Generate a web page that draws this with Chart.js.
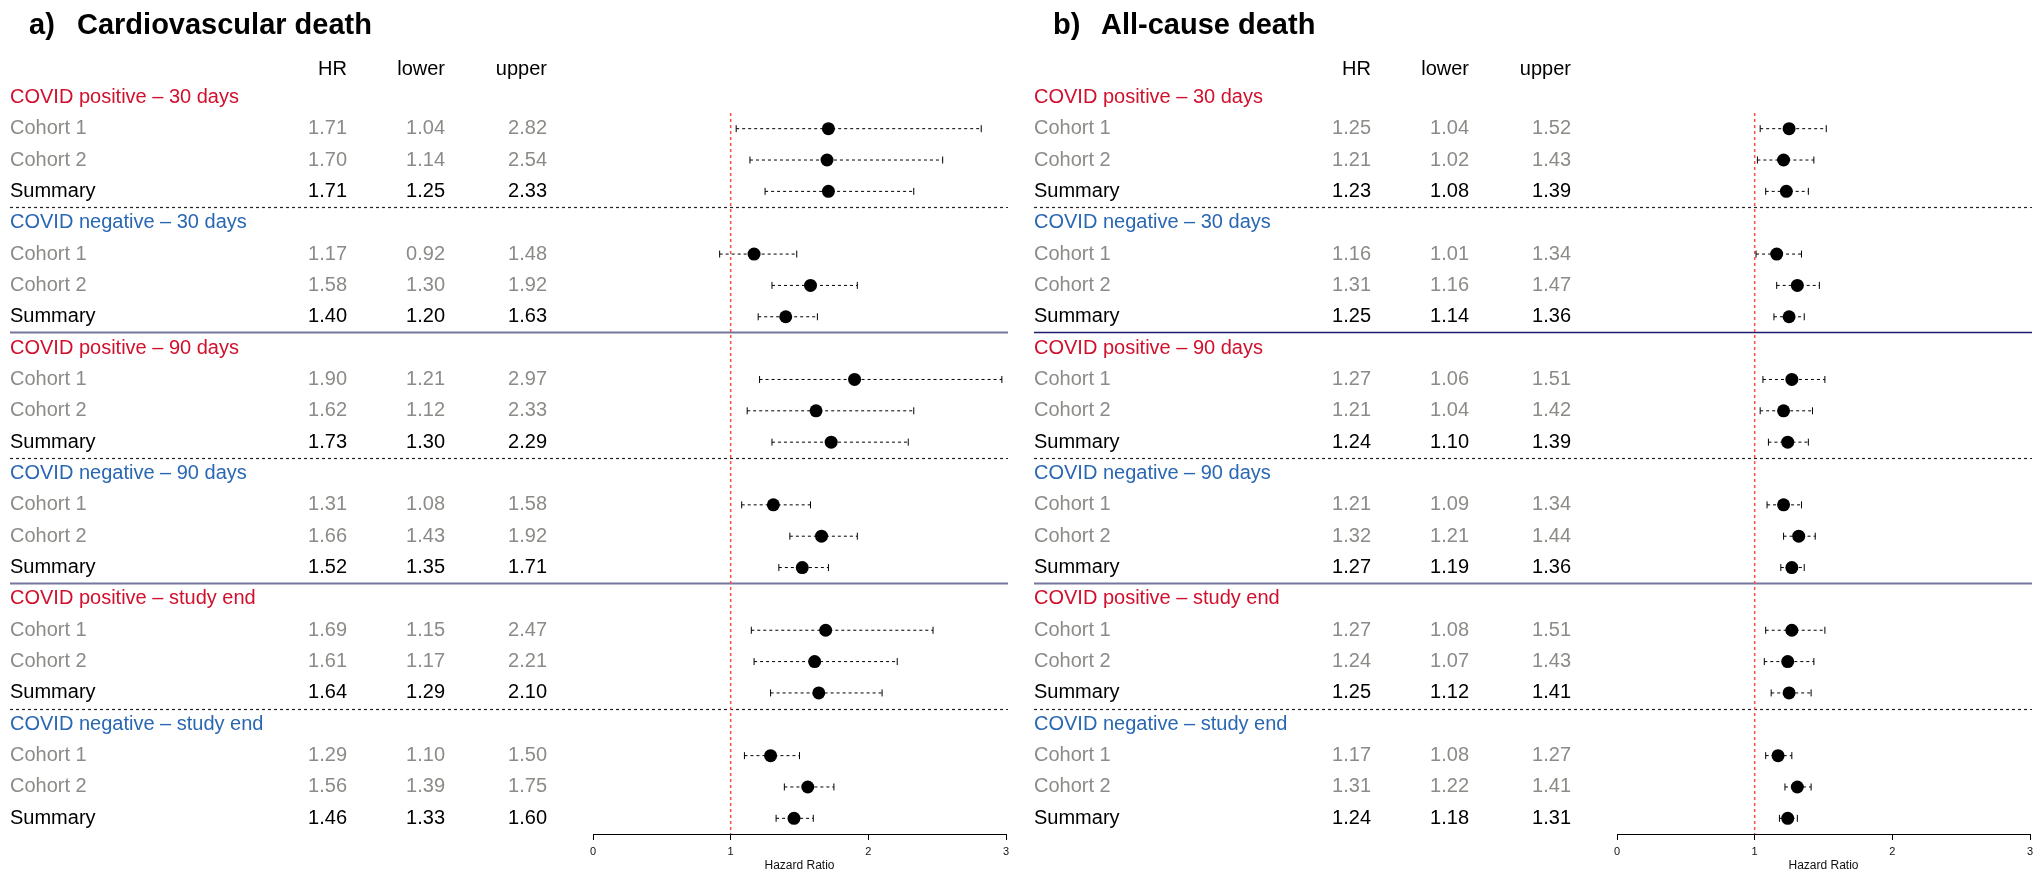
<!DOCTYPE html>
<html>
<head>
<meta charset="utf-8">
<script src="https://cdn.jsdelivr.net/npm/chart.js@4.4.1/dist/chart.umd.min.js"></script>
<style>
html,body{margin:0;padding:0;background:#ffffff;}
#wrap{position:relative;width:2040px;height:872px;overflow:hidden;background:#ffffff;}
.panel{position:absolute;top:0;height:872px;}
canvas{display:block;}
</style>
</head>
<body>
<div id="wrap">
  <div class="panel" style="left:0px;width:1020px"><canvas id="cA" width="1020" height="872" style="width:1020px;height:872px"></canvas></div>
  <div class="panel" style="left:1024px;width:1016px"><canvas id="cB" width="1016" height="872" style="width:1016px;height:872px"></canvas></div>
</div>
<script>
// ---------------- DATA ----------------
const panelLetters = ['a)', 'b)'];
const panelTitles = ['Cardiovascular death', 'All-cause death'];
const columnHeaders = ['HR', 'lower', 'upper'];
const groupLabels = [
  'COVID positive \u2013 30 days',
  'COVID negative \u2013 30 days',
  'COVID positive \u2013 90 days',
  'COVID negative \u2013 90 days',
  'COVID positive \u2013 study end',
  'COVID negative \u2013 study end'
];
const groupIsPositive = [true, false, true, false, true, false];
const rowLabels = ['Cohort 1', 'Cohort 2', 'Summary'];
const xTicks = [0, 1, 2, 3];
const axisTitle = 'Hazard Ratio';
const referenceHR = 1;

// Panel a: Cardiovascular death (Cohort 1, Cohort 2, Summary for each group)
const cvHR    = [1.71, 1.70, 1.71,  1.17, 1.58, 1.40,  1.90, 1.62, 1.73,  1.31, 1.66, 1.52,  1.69, 1.61, 1.64,  1.29, 1.56, 1.46];
const cvLower = [1.04, 1.14, 1.25,  0.92, 1.30, 1.20,  1.21, 1.12, 1.30,  1.08, 1.43, 1.35,  1.15, 1.17, 1.29,  1.10, 1.39, 1.33];
const cvUpper = [2.82, 2.54, 2.33,  1.48, 1.92, 1.63,  2.97, 2.33, 2.29,  1.58, 1.92, 1.71,  2.47, 2.21, 2.10,  1.50, 1.75, 1.60];

// Panel b: All-cause death
const acHR    = [1.25, 1.21, 1.23,  1.16, 1.31, 1.25,  1.27, 1.21, 1.24,  1.21, 1.32, 1.27,  1.27, 1.24, 1.25,  1.17, 1.31, 1.24];
const acLower = [1.04, 1.02, 1.08,  1.01, 1.16, 1.14,  1.06, 1.04, 1.10,  1.09, 1.21, 1.19,  1.08, 1.07, 1.12,  1.08, 1.22, 1.18];
const acUpper = [1.52, 1.43, 1.39,  1.34, 1.47, 1.36,  1.51, 1.42, 1.39,  1.34, 1.44, 1.36,  1.51, 1.43, 1.41,  1.27, 1.41, 1.31];

// ---------------- STYLE ----------------
const FONT = '"Liberation Sans", Arial, Helvetica, sans-serif';
const COL_POS = '#d0102c';
const COL_NEG = '#2a67b3';
const COL_GRAY = '#8b8b87';
const COL_BLACK = '#000000';
Chart.defaults.font.family = FONT;

function rowIndex(g, k) { return g * 4 + 1 + k; }   // group header at g*4

function buildChart(canvasId, panel, hr, lo, hi, sepStyles) {
  const n = hr.length;
  const pointData = [];
  const whiskers = [];
  for (let i = 0; i < n; i++) {
    const g = Math.floor(i / 3), k = i % 3;
    const r = rowIndex(g, k);
    pointData.push({ x: hr[i], y: r });
    whiskers.push({
      type: 'scatter',
      data: [{ x: lo[i], y: r }, { x: hi[i], y: r }],
      showLine: true,
      borderColor: '#000000',
      borderWidth: 1,
      borderDash: [3, 3],
      pointStyle: 'line',
      rotation: 90,
      pointRotation: 90,
      pointRadius: 3.5,
      pointHoverRadius: 3.5,
      pointBorderWidth: 1,
      pointBorderColor: '#000000',
      pointBackgroundColor: '#000000',
      order: 2
    });
  }
  const datasets = [
    {
      type: 'scatter',
      data: pointData,
      pointStyle: 'circle',
      pointRadius: 6.5,
      pointHoverRadius: 6.5,
      pointBackgroundColor: '#000000',
      pointBorderColor: '#000000',
      pointBorderWidth: 0,
      showLine: false,
      order: 0
    },
    ...whiskers,
    {
      type: 'scatter',
      data: [{ x: referenceHR, y: 0.5 }, { x: referenceHR, y: 23.5 }],
      showLine: true,
      borderColor: '#ff4a4a',
      borderWidth: 1.5,
      borderDash: [3, 3],
      pointRadius: 0,
      pointHoverRadius: 0,
      order: 3
    }
  ];

  const sepPlugin = {
    id: 'separators',
    beforeDatasetsDraw(chart) {
      const ctx = chart.ctx, ys = chart.scales.y;
      ctx.save();
      for (let s = 0; s < sepStyles.length; s++) {
        const yy = Math.round(ys.getPixelForValue(s * 4 + 3.5)) + 0.5;
        const st = sepStyles[s];
        ctx.beginPath();
        if (st === 'dash') {
          ctx.setLineDash([3, 3]);
          ctx.strokeStyle = '#222222';
          ctx.lineWidth = 1.2;
        } else if (st === 'navy') {
          ctx.setLineDash([]);
          ctx.strokeStyle = '#1e1e6e';
          ctx.lineWidth = 1.3;
        } else {
          ctx.setLineDash([]);
          ctx.strokeStyle = '#77779e';
          ctx.lineWidth = 2;
        }
        ctx.moveTo(10, yy);
        ctx.lineTo(1008, yy);
        ctx.stroke();
      }
      ctx.restore();
    }
  };

  const tablePlugin = {
    id: 'table',
    afterDraw(chart) {
      const ctx = chart.ctx, ys = chart.scales.y;
      ctx.save();
      // Title
      ctx.fillStyle = '#000000';
      ctx.textBaseline = 'alphabetic';
      ctx.textAlign = 'left';
      ctx.font = 'bold 29px ' + FONT;
      ctx.fillText(panelLetters[panel], 29, 34);
      ctx.fillText(panelTitles[panel], 77, 34);
      // Column headers
      const colX = [347, 445, 547];
      ctx.font = '20px ' + FONT;
      ctx.textBaseline = 'middle';
      ctx.textAlign = 'right';
      const yh = ys.getPixelForValue(-0.9);
      for (let c = 0; c < 3; c++) ctx.fillText(columnHeaders[c], colX[c], yh);
      // Rows
      for (let g = 0; g < groupLabels.length; g++) {
        ctx.textAlign = 'left';
        ctx.fillStyle = groupIsPositive[g] ? COL_POS : COL_NEG;
        ctx.fillText(groupLabels[g], 10, ys.getPixelForValue(g * 4));
        for (let k = 0; k < 3; k++) {
          const i = g * 3 + k;
          const y = ys.getPixelForValue(rowIndex(g, k));
          ctx.fillStyle = k === 2 ? COL_BLACK : COL_GRAY;
          ctx.textAlign = 'left';
          ctx.fillText(rowLabels[k], 10, y);
          ctx.textAlign = 'right';
          ctx.fillText(hr[i].toFixed(2), colX[0], y);
          ctx.fillText(lo[i].toFixed(2), colX[1], y);
          ctx.fillText(hi[i].toFixed(2), colX[2], y);
        }
      }
      ctx.restore();
    }
  };

  const canvas = document.getElementById(canvasId);
  return new Chart(canvas, {
    type: 'scatter',
    data: { datasets },
    options: {
      responsive: false,
      animation: false,
      devicePixelRatio: 1,
      layout: { padding: { left: 593, right: canvas.width - 1006, top: 113, bottom: 0 } },
      plugins: { legend: { display: false }, tooltip: { enabled: false }, title: { display: false } },
      events: [],
      scales: {
        x: {
          type: 'linear',
          min: xTicks[0],
          max: xTicks[xTicks.length - 1],
          afterFit(scale) { scale.height = 38; },
          afterBuildTicks(scale) { scale.ticks = xTicks.map(v => ({ value: v })); },
          border: { display: true, color: '#000000', width: 1 },
          grid: { drawOnChartArea: false, drawTicks: true, tickLength: 6, color: '#000000', lineWidth: 1 },
          ticks: { color: '#111111', font: { size: 11 }, padding: 5, maxRotation: 0, callback: v => String(v) },
          title: { display: true, text: axisTitle, color: '#111111', font: { size: 12, lineHeight: 1 }, padding: { top: 0, bottom: 0 } }
        },
        y: {
          type: 'linear',
          display: false,
          reverse: true,
          min: 0.5,
          max: 23.5
        }
      }
    },
    plugins: [sepPlugin, tablePlugin]
  });
}

buildChart('cA', 0, cvHR, cvLower, cvUpper, ['dash', 'slate', 'dash', 'slate', 'dash']);
buildChart('cB', 1, acHR, acLower, acUpper, ['dash', 'navy', 'dash', 'slate', 'dash']);
</script>
</body>
</html>
